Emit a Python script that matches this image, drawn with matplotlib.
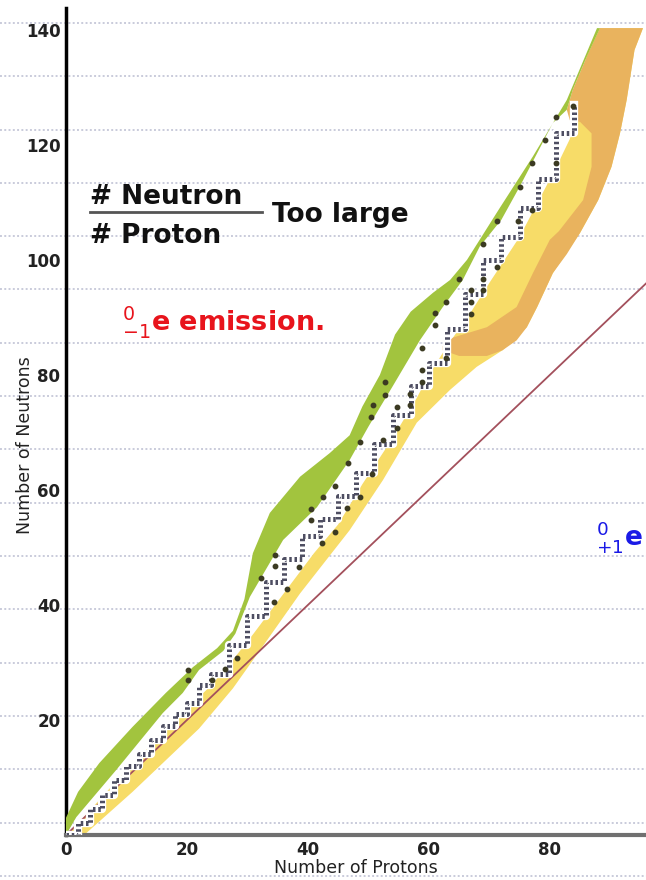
import numpy as np
import matplotlib.pyplot as plt
from matplotlib.lines import Line2D

# ---- data (protons Z, neutrons N) ----
green_top_z = [0, 0, 2, 5.5, 11, 16.5, 21, 25, 27.6, 29.5, 30.9, 33.7, 38.7, 43.6, 46.9, 49, 51.9, 54.4, 57, 60.7, 63.5, 66.3, 71.7, 77.2, 82.8, 87.8]
green_top_n = [0, 3, 7.5, 12.5, 18.8, 24.7, 29.2, 32.5, 35.5, 41, 49, 56, 62.3, 66.4, 69.5, 74.5, 80, 87, 91, 94.3, 96.5, 100, 109, 118, 127.8, 140.3]
green_bot_z = [0, 1.7, 8.3, 16, 19.3, 22, 26, 28, 30.4, 35.9, 41.5, 46.9, 50, 54, 58.5, 62.3, 65.6, 68.4, 72, 75, 80.5, 82.8, 83.8, 86.1, 88.3]
green_bot_n = [0, 3.1, 11.3, 21.2, 24.7, 28.7, 32, 35, 41.4, 51.3, 57, 65.2, 71, 78, 86, 91.8, 96.5, 102.3, 107, 112.7, 123.8, 126.1, 129.6, 135.3, 140.3]

yellow_top_z = [0, 2, 8, 12, 16, 20, 24, 28, 31, 36, 41, 45, 49, 54, 58, 60, 63, 67, 70, 75, 78, 81, 83.3, 84.5, 86.1, 88.3]
yellow_top_n = [0, 2, 9, 13.3, 18, 22, 26, 31, 35, 42, 49, 54, 61, 69, 76, 80, 85, 91, 96, 104, 110, 116, 121, 126, 135.3, 140.3]
yellow_bot_z = [0, 3, 11, 16.5, 22, 27.6, 33, 38.7, 46.9, 52.4, 58, 63.5, 67.9, 72.2, 76.2, 77.9, 80.5, 85, 88, 90.2, 91.6, 92.7, 94, 95.4]
yellow_bot_n = [0, 0, 7.5, 13, 18.5, 25.5, 33.5, 42, 53, 61.7, 71.7, 77.4, 81.4, 84.3, 88.3, 91.8, 97.7, 104.7, 110.4, 116.2, 122, 127.8, 136.5, 140.3]

orange_z = [62.3, 64, 69.6, 74.5, 77.2, 80, 81.5, 85.5, 86.9, 86.9, 85, 83.3, 82.8, 83.8, 86.1, 88.3, 95.4,
            94, 92.7, 91.6, 90.2, 88, 85, 82.8, 80.5, 77.9, 76.2, 74.5, 72.2, 69.6, 65, 62.3]
orange_n = [85, 86.5, 88.3, 91.8, 97.7, 103.5, 105, 110.4, 116.2, 122, 124, 124.3, 126.1, 129.6, 135.3, 140.3, 140.3,
            136.5, 127.8, 122, 116.2, 110.4, 104.7, 101, 97.7, 91.8, 88.3, 86, 84.3, 83.3, 83.3, 84.3]

# stable nuclides, drawn as a staircase
stair_z = [0, 2, 4, 6, 8, 10, 12, 14, 16, 18, 20, 22, 24, 27, 30, 33, 36, 39, 42, 45, 48, 51, 54, 57, 60, 63, 66, 69, 72, 75, 78, 81, 84]
stair_n = [0, 2, 4.5, 7, 9.5, 12, 14, 16.5, 19, 21, 23, 26, 28, 33, 38, 44, 48, 52, 55, 59, 63, 68, 73, 78, 82, 88, 94, 100, 104, 109, 114, 122, 127]

# long-lived radioactive nuclides (dark dots)
dots_z = [20.2, 20.2, 24.1, 26.3, 28.2, 32.3, 34.4, 34.5, 34.5, 36.5, 38.5, 40.5, 40.5, 42.4, 42.5, 44.5, 44.5, 46.4, 46.7,
          48.6, 48.6, 50.6, 50.5, 52.4, 50.8, 52.7, 52.7, 54.7, 54.7, 56.9, 56.9, 58.8, 58.8, 58.8, 61.0, 61.0, 62.9, 62.9,
          65.0, 67.0, 67.0, 67.0, 69.0, 69.0, 69.0, 71.2, 71.2, 74.8, 75.0, 77.1, 77.0, 79.2, 81.1, 81.1, 83.9]
dots_n = [28.7, 27.0, 27.0, 28.8, 30.7, 44.7, 40.6, 48.7, 46.8, 42.7, 46.6, 56.6, 54.7, 50.7, 58.8, 60.6, 52.7, 56.8, 64.6,
          68.4, 58.8, 62.7, 72.7, 68.7, 74.8, 76.5, 78.8, 74.5, 70.7, 76.6, 74.8, 78.8, 80.8, 84.6, 88.7, 90.7, 82.9, 92.7,
          96.7, 92.6, 90.6, 94.8, 94.7, 96.7, 102.8, 98.8, 106.7, 106.7, 112.7, 108.7, 116.8, 120.9, 116.8, 124.9, 126.7]

nz_line = [0, 96]
x_ticks = [0, 20, 40, 60, 80]
y_ticks = [20, 40, 60, 80, 100, 120, 140]

W, H = 646, 880
fig = plt.figure(figsize=(W / 100, H / 100), dpi=100)
fig.patch.set_facecolor('white')

# notebook-paper dotted rules across the whole sheet
for ypx in np.arange(23, H, 53.3):
    fig.add_artist(Line2D([0, 1], [1 - ypx / H] * 2, transform=fig.transFigure,
                          color='#c9cbdb', lw=1.4, ls=(0, (1, 1.2)), zorder=-5))

ax = fig.add_axes([66 / W, 1 - 835 / H, 1 - 66 / W, (835 - 8) / H])
ax.patch.set_alpha(0)
ax.set_xlim(0, 95.9)
ax.set_ylim(0, 143.8)

ax.fill(yellow_top_z + yellow_bot_z[::-1], yellow_top_n + yellow_bot_n[::-1],
        color='#f7dc68', lw=0, zorder=1)
ax.fill(orange_z, orange_n, color='#e9b35e', lw=0, zorder=2)
ax.fill(green_top_z + green_bot_z[::-1], green_top_n + green_bot_n[::-1],
        color='#a2c43e', lw=0, zorder=3)

ax.plot(nz_line, nz_line, color='#a3505c', lw=1.3, zorder=4)
# stable band: a thick checkered staircase
ax.step(stair_z, stair_n, where='post', color='white', lw=6, zorder=5)
ax.step(stair_z, stair_n, where='post', color='#4e4e62', lw=3.6,
        ls=(0, (0.5, 0.55)), zorder=5)
ax.plot(dots_z, dots_n, 'o', ms=3.2, color='#3b3a22', zorder=6)

for s in ['top', 'right']:
    ax.spines[s].set_visible(False)
ax.spines['left'].set_color('black')
ax.spines['left'].set_linewidth(2.5)
ax.spines['bottom'].set_color('#707070')
ax.spines['bottom'].set_linewidth(3)
ax.set_xticks(x_ticks)
ax.set_yticks(y_ticks)
ax.tick_params(length=0, labelsize=12, pad=4, colors='#222222')
for lab in ax.get_xticklabels() + ax.get_yticklabels():
    lab.set_fontweight('bold')

fig.text(356 / W, 1 - 868 / H, 'Number of Protons', ha='center', va='center',
         fontsize=12.5, color='#222222')
fig.text(25 / W, 1 - 445 / H, 'Number of Neutrons', ha='center', va='center',
         rotation=90, fontsize=12.5, color='#222222')

# annotations
fig.text(90 / W, 1 - 197 / H, '# Neutron', ha='left', va='center', fontsize=19,
         fontweight='bold', color='#111111')
fig.add_artist(Line2D([90 / W, 262 / W], [1 - 212 / H] * 2, transform=fig.transFigure,
                      color='#555555', lw=2))
fig.text(90 / W, 1 - 236 / H, '# Proton', ha='left', va='center', fontsize=19,
         fontweight='bold', color='#111111')
fig.text(272 / W, 1 - 215 / H, 'Too large', ha='left', va='center', fontsize=19,
         fontweight='bold', color='#111111')
fig.text(122 / W, 1 - 322 / H, r'${}^{0}_{-1}$e emission.', ha='left', va='center',
         fontsize=19.5, fontweight='bold', color='#e8141c')
fig.text(596 / W, 1 - 537 / H, r'${}^{0}_{+1}$e', ha='left', va='center',
         fontsize=19, fontweight='bold', color='#1a1ae6')

fig.savefig('out.png', dpi=100)
